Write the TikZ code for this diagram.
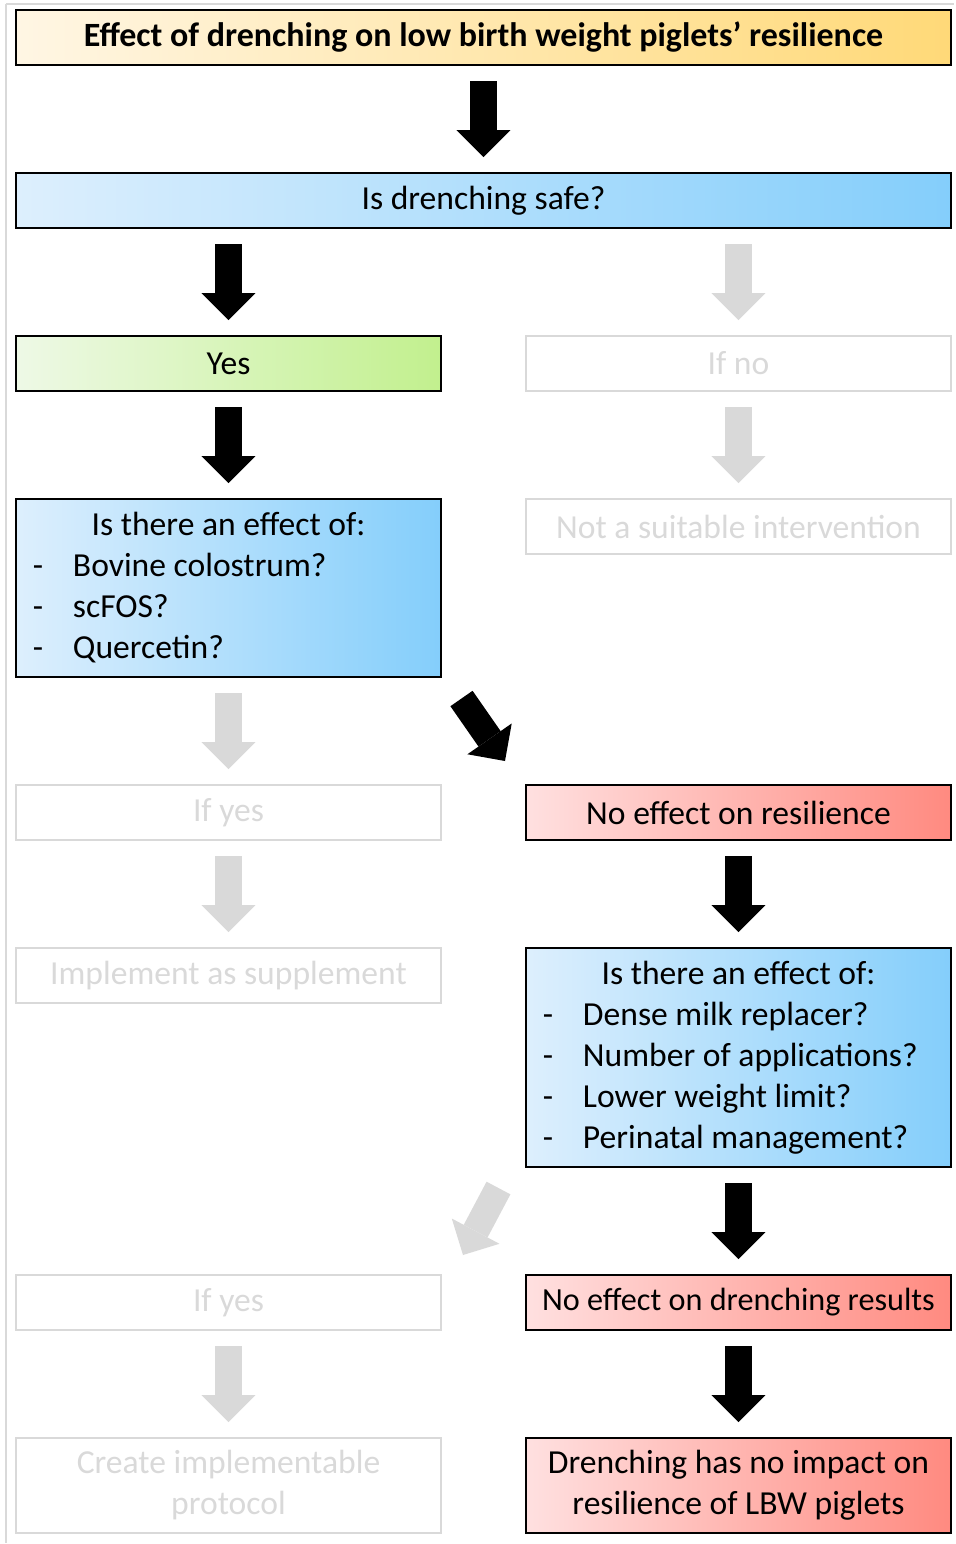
\documentclass[tikz,border=0pt]{standalone}
\usepackage{fontspec}
\setmainfont{Carlito}
\usetikzlibrary{arrows.meta, positioning, calc}
\definecolor{drenchgold}{HTML}{FFD978}
\definecolor{drenchcream}{HTML}{FFF6E4}
\definecolor{drenchblue}{HTML}{84CEFB}
\definecolor{drenchsky}{HTML}{DDEFFD}
\definecolor{drenchgreen}{HTML}{C2F08E}
\definecolor{drenchmint}{HTML}{EEF9E6}
\definecolor{drenchred}{HTML}{FF8A80}
\definecolor{drenchpink}{HTML}{FFE0E0}
\definecolor{drenchgrey}{HTML}{D9D9D9}
\tikzset{
  node distance=54pt and 42.5pt,
  box/.style={rectangle, draw=black, line width=1pt, align=center, outer sep=0pt,
              minimum width=212.5pt, minimum height=27.5pt, inner sep=4pt,
              font=\fontsize{16.8}{20.5}\selectfont},
  boxy/.style={box, left color=drenchcream, right color=drenchgold},
  boxb/.style={box, left color=drenchsky, right color=drenchblue},
  boxg/.style={box, left color=drenchmint, right color=drenchgreen},
  boxr/.style={box, left color=drenchpink, right color=drenchred},
  boxoff/.style={box, draw=drenchgrey, text=drenchgrey},
  list/.style={text width=195.5pt, align=left, inner xsep=8.5pt},
  flow/.style={line width=13.5pt, draw=black,
               -{Triangle[length=13.5pt, width=27pt, line width=0pt]},
               shorten <=8pt, shorten >=8pt},
  flowoff/.style={flow, draw=drenchgrey},
  frame/.style={draw=drenchgrey, line width=1pt},
}
\newcommand{\ask}[1]{\makebox[20pt][l]{-}#1}
\newcommand{\asktop}[1]{\spaceskip=0pt \xspaceskip=0pt \makebox[\linewidth]{#1}}

\begin{document}
\begin{tikzpicture}
  % question chain
  \node[boxy, minimum width=467.5pt, font=\fontsize{17}{20}\selectfont\bfseries] (title)
    {Effect of drenching on low birth weight piglets’ resilience};
  \node[boxb, minimum width=467.5pt, below=of title] (safe) {Is drenching safe?};
  \node[boxg, below=of safe.south west, anchor=north west] (yes) {Yes};
  \node[boxoff, right=of yes] (ifno) {If no};
  \node[boxb, list, minimum height=89pt, below=of yes] (eff1)
    {\asktop{Is there an effect of:}\\\ask{Bovine colostrum?}\\\ask{scFOS?}\\\ask{Quercetin?}};
  \node[boxoff, below=of ifno] (nosuit) {Not a suitable intervention};

  % left column (not reached)
  \node[boxoff, below=of eff1] (ifyes1) {If yes};
  \node[boxoff, below=of ifyes1] (impl) {Implement as supplement};

  % right column
  \node[boxr, right=of ifyes1] (noeff) {No effect on resilience};
  \node[boxb, list, minimum height=109.5pt, below=of noeff] (eff2)
    {\asktop{Is there an effect of:}\\\ask{Dense milk replacer?}\\\ask{Number of applications?}\\\ask{Lower weight limit?}\\\ask{Perinatal management?}};
  \node[boxr, below=of eff2, font=\fontsize{16.1}{20.5}\selectfont] (noeffdr) {No effect on drenching results};
  \node[boxoff, left=of noeffdr] (ifyes2) {If yes};
  \node[boxr, minimum height=47.5pt, below=of noeffdr] (final)
    {Drenching has no impact on\\resilience of LBW piglets};
  \node[boxoff, minimum height=47.5pt, left=of final] (create) {Create implementable\\protocol};

  % arrows
  \draw[flow] (title) -- (safe);
  \draw[flow] (safe.south -| yes) -- (yes);
  \draw[flowoff] (safe.south -| ifno) -- (ifno);
  \draw[flow] (yes) -- (eff1);
  \draw[flowoff] (ifno) -- (nosuit);
  \draw[flowoff] (eff1) -- (ifyes1);
  \draw[flow, shorten <=0pt, shorten >=0pt] ($(eff1.south east)+(10.25pt,-10.75pt)$) -- ($(noeff.north west)+(-10.5pt,12pt)$);
  \draw[flowoff] (ifyes1) -- (impl);
  \draw[flow] (noeff) -- (eff2);
  \draw[flowoff, shorten <=0pt, shorten >=0pt] ($(eff2.south west)+(-13.75pt,-10.5pt)$) -- ($(ifyes2.north east)+(11pt,10pt)$);
  \draw[flow] (eff2) -- (noeffdr);
  \draw[flowoff] (ifyes2) -- (create);
  \draw[flow] (noeffdr) -- (final);

  % page edge
  \coordinate (nw) at ($(title.north west)+(-8pt,5pt)$);
  \coordinate (se) at ($(final.south east)+(1.5pt,-5pt)$);
  \draw[frame] ($(nw)+(3pt,-2pt)$) -- ($(nw -| se)+(0,-2pt)$);
  \draw[frame] ($(nw)+(3pt,-2pt)$) -- ($(nw |- se)+(3pt,0)$);
  \useasboundingbox (nw) rectangle (se);
\end{tikzpicture}
\end{document}
